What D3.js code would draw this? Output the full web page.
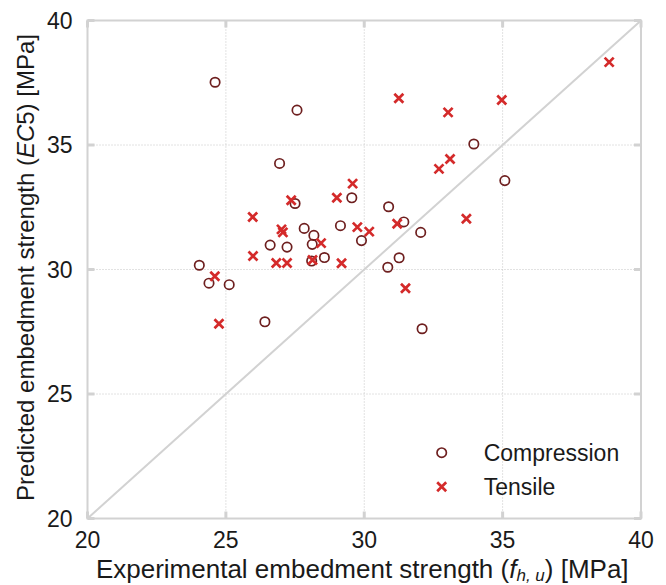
<!DOCTYPE html>
<html>
<head>
<meta charset="utf-8">
<script src="https://cdn.jsdelivr.net/npm/d3@7"></script>
<style>
  body { margin: 0; background: #fff; }
  text { font-family: "Liberation Sans", Arial, sans-serif; fill: #1a1a1a; }
</style>
</head>
<body>
<div id="chart"></div>
<script>
// Data (experimental vs predicted, MPa)
const compressionX = [24.61, 27.57, 26.94, 27.50, 27.83, 28.18, 28.12, 26.60, 27.21, 28.56, 28.10, 24.04, 24.39, 25.12, 26.41,
                      29.14, 29.55, 29.90, 30.88, 31.43, 32.04, 31.26, 30.85, 33.96, 35.08, 32.09];
const compressionY = [37.52, 36.40, 34.26, 32.65, 31.65, 31.37, 31.01, 30.98, 30.90, 30.48, 30.34, 30.17, 29.45, 29.39, 27.90,
                      31.76, 32.88, 31.16, 32.52, 31.91, 31.49, 30.47, 30.09, 35.04, 33.57, 27.62];
const tensileX = [25.97, 27.36, 27.01, 27.06, 28.44, 25.98, 26.82, 27.21, 28.13, 29.18, 29.01, 29.58, 29.75,
                  30.18, 31.19, 31.25, 33.03, 34.97, 38.85, 32.70, 33.10, 33.69, 31.49, 24.60, 24.75];
const tensileY = [32.11, 32.78, 31.61, 31.49, 31.06, 30.54, 30.26, 30.26, 30.38, 30.25, 32.88, 33.45, 31.70,
                  31.52, 31.84, 36.88, 36.31, 36.81, 38.33, 34.04, 34.44, 32.04, 29.25, 29.73, 27.82];
const ticks = [20, 25, 30, 35, 40];

const W = 666, H = 585;
const margin = {top: 20.5, right: 25, bottom: 66.5, left: 87.5};
const width = W - margin.left - margin.right;
const height = H - margin.top - margin.bottom;

const svg = d3.select("#chart").append("svg")
    .attr("width", W)
    .attr("height", H)
    .append("g")
    .attr("transform", `translate(${margin.left},${margin.top})`);

const x = d3.scaleLinear().domain([20, 40]).range([0, width]);
const y = d3.scaleLinear().domain([20, 40]).range([height, 0]);

// Dotted grid
svg.append("g").selectAll("line.gx")
    .data(ticks.slice(1, -1))
    .join("line")
    .attr("x1", d => x(d)).attr("x2", d => x(d))
    .attr("y1", 0).attr("y2", height)
    .attr("stroke", "#c4c4c4").attr("stroke-width", 1).attr("stroke-dasharray", "1,2");
svg.append("g").selectAll("line.gy")
    .data(ticks.slice(1, -1))
    .join("line")
    .attr("y1", d => y(d)).attr("y2", d => y(d))
    .attr("x1", 0).attr("x2", width)
    .attr("stroke", "#c4c4c4").attr("stroke-width", 1).attr("stroke-dasharray", "1,2");

// Diagonal 1:1 line
svg.append("line")
    .attr("x1", x(20)).attr("y1", y(20))
    .attr("x2", x(40)).attr("y2", y(40))
    .attr("stroke", "#d2d2d2").attr("stroke-width", 2);

// Frame
svg.append("rect")
    .attr("width", width).attr("height", height)
    .attr("fill", "none").attr("stroke", "#d2d2d2").attr("stroke-width", 2);

// Inward ticks on all four sides
const tickLen = 7;
const tg = svg.append("g").attr("stroke", "#d2d2d2").attr("stroke-width", 3);
ticks.forEach(t => {
    tg.append("line").attr("x1", x(t)).attr("x2", x(t)).attr("y1", height).attr("y2", height - tickLen);
    tg.append("line").attr("x1", x(t)).attr("x2", x(t)).attr("y1", 0).attr("y2", tickLen);
    tg.append("line").attr("y1", y(t)).attr("y2", y(t)).attr("x1", 0).attr("x2", tickLen);
    tg.append("line").attr("y1", y(t)).attr("y2", y(t)).attr("x1", width).attr("x2", width - tickLen);
});

// Tick labels
svg.append("g").selectAll("text")
    .data(ticks)
    .join("text")
    .attr("x", d => x(d))
    .attr("y", height + 29)
    .attr("text-anchor", "middle")
    .style("font-size", "23px")
    .text(d => d);
svg.append("g").selectAll("text")
    .data(ticks)
    .join("text")
    .attr("x", -15)
    .attr("y", d => y(d) + 8)
    .attr("text-anchor", "end")
    .style("font-size", "23px")
    .text(d => d);

// Axis titles
const xt = svg.append("text")
    .attr("x", width / 2 - 2)
    .attr("y", height + 59)
    .attr("text-anchor", "middle")
    .style("font-size", "26px");
xt.append("tspan").text("Experimental embedment strength (");
xt.append("tspan").style("font-style", "italic").text("f");
xt.append("tspan").style("font-style", "italic").style("font-size", "17px").attr("dy", 3).text("h, u");
xt.append("tspan").attr("dy", -3).text(") [MPa]");

const yt = svg.append("text")
    .attr("transform", "rotate(-90)")
    .attr("x", -height / 2 + 2)
    .attr("y", -margin.left + 34)
    .attr("text-anchor", "middle")
    .style("font-size", "24px");
yt.append("tspan").text("Predicted embedment strength (");
yt.append("tspan").style("font-style", "italic").text("EC");
yt.append("tspan").text("5) [MPa]");

// Markers
const circleColor = "#6e1f1f";
const crossColor = "#d42a2a";
const compression = compressionX.map((v, i) => ({x: v, y: compressionY[i]}));
const tensile = tensileX.map((v, i) => ({x: v, y: tensileY[i]}));

svg.append("g").selectAll("circle")
    .data(compression)
    .join("circle")
    .attr("cx", d => x(d.x))
    .attr("cy", d => y(d.y))
    .attr("r", 4.7)
    .attr("fill", "none")
    .attr("stroke", circleColor)
    .attr("stroke-width", 1.7);

const cs = 4.5;
const crossPath = `M${-cs},${-cs}L${cs},${cs}M${-cs},${cs}L${cs},${-cs}`;
svg.append("g").selectAll("path")
    .data(tensile)
    .join("path")
    .attr("transform", d => `translate(${x(d.x)},${y(d.y)})`)
    .attr("d", crossPath)
    .attr("fill", "none")
    .attr("stroke", crossColor)
    .attr("stroke-width", 2.7);

// Legend
const lg = svg.append("g").attr("transform", `translate(${441.7 - margin.left},${452.7 - margin.top})`);
lg.append("circle").attr("r", 4.7).attr("fill", "none").attr("stroke", circleColor).attr("stroke-width", 1.7);
lg.append("path").attr("transform", "translate(0,34)").attr("d", crossPath)
    .attr("fill", "none").attr("stroke", crossColor).attr("stroke-width", 2.7);
lg.append("text").attr("x", 42).attr("y", 8).style("font-size", "23px").text("Compression");
lg.append("text").attr("x", 42).attr("y", 42).style("font-size", "23px").text("Tensile");
</script>
</body>
</html>
